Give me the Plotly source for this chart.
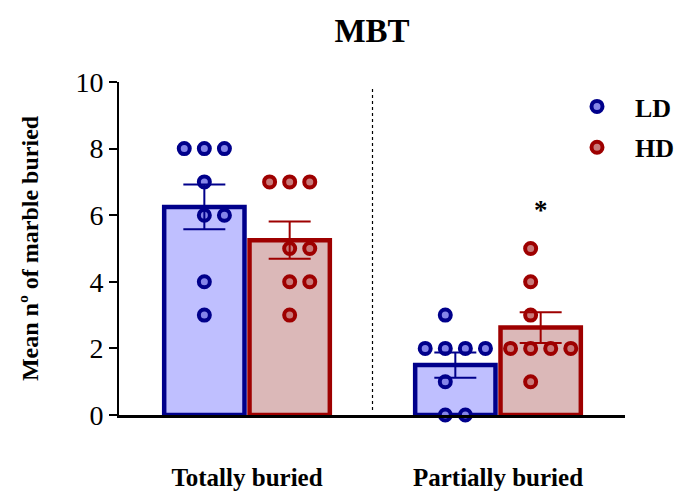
import numpy as np
import plotly.graph_objects as go

# Marble burying test: number of marbles buried per animal
categories = ["Totally buried", "Partially buried"]
groups = ["LD", "HD"]

ld_totally = [8, 8, 8, 7, 6, 6, 4, 3]
hd_totally = [7, 7, 7, 5, 5, 4, 4, 3]
ld_partially = [3, 2, 2, 2, 2, 1, 0, 0]
hd_partially = [5, 4, 3, 2, 2, 2, 2, 1]

values = {
    "LD": [ld_totally, ld_partially],
    "HD": [hd_totally, hd_partially],
}

# styling
FONT = "Liberation Serif"
BAR_FILL = {"LD": "#BFBFFF", "HD": "#DBB8B8"}
EDGE = {"LD": "#00008B", "HD": "#9E0000"}
DOT_FILL = {"LD": "#8484E8", "HD": "#C87A7A"}
BAR_OFFSET = {"LD": -0.17, "HD": 0.17}
BAR_WIDTH = 0.32
SLOT = 0.08                 # horizontal spacing of stacked dots
GRID_PHASE = [0.0, -0.5]    # dot grid alignment per category


def swarm_offsets(vals, phase):
    """Spread identical values side by side on a slot grid."""
    vals = list(vals)
    offs = [0.0] * len(vals)
    for v in sorted(set(vals), reverse=True):
        idx = [i for i, x in enumerate(vals) if x == v]
        n = len(idx)
        start = phase + round(-(n - 1) / 2 - phase)
        for k, i in enumerate(idx):
            offs[i] = (start + k) * SLOT
    return offs


fig = go.Figure()

# bars: group means
for g in groups:
    means = [float(np.mean(v)) for v in values[g]]
    fig.add_trace(go.Bar(
        x=[i + BAR_OFFSET[g] for i in range(len(categories))],
        y=means,
        width=BAR_WIDTH,
        marker=dict(color=BAR_FILL[g], line=dict(color=EDGE[g], width=4.5)),
        showlegend=False,
        hoverinfo="skip",
    ))

# individual animals
for g in groups:
    xs, ys = [], []
    for i, v in enumerate(values[g]):
        offs = swarm_offsets(v, GRID_PHASE[i])
        xs += [i + BAR_OFFSET[g] + o for o in offs]
        ys += v
    fig.add_trace(go.Scatter(
        x=xs, y=ys, mode="markers", name=f"<b>{g}</b>",
        marker=dict(size=11, color=DOT_FILL[g], line=dict(color=EDGE[g], width=4)),
        cliponaxis=False,
        legendgroup=g,
    ))

# mean ± SEM drawn above the dots
for g in groups:
    means = [float(np.mean(v)) for v in values[g]]
    sems = [float(np.std(v, ddof=1) / np.sqrt(len(v))) for v in values[g]]
    fig.add_trace(go.Scatter(
        x=[i + BAR_OFFSET[g] for i in range(len(categories))],
        y=means, mode="markers",
        marker=dict(size=1, opacity=0),
        error_y=dict(type="data", array=sems, visible=True,
                     color=EDGE[g], thickness=2, width=21),
        showlegend=False, hoverinfo="skip", cliponaxis=False,
    ))

# divider between categories
fig.add_shape(type="line", xref="x", yref="paper", x0=0.5, x1=0.5, y0=0.015, y1=0.98,
              line=dict(color="black", width=1.2, dash="dot"))

# significance marker
fig.add_annotation(x=1 + BAR_OFFSET["HD"], y=6.15, text="<b>*</b>", showarrow=False,
                   font=dict(family=FONT, size=27, color="black"))

fig.update_layout(
    width=676, height=492,
    margin=dict(l=119, r=51, t=82, b=77, autoexpand=False),
    plot_bgcolor="white", paper_bgcolor="white",
    title=dict(text="<b>MBT</b>", x=0.5, xref="paper", y=1 - 30 / 492, yanchor="middle",
               font=dict(family=FONT, size=33, color="black")),
    font=dict(family=FONT, color="black"),
    barmode="overlay",
    legend=dict(xref="container", yref="container",
                x=559 / 676, y=1 - 83 / 492, xanchor="left", yanchor="top", itemwidth=66,
                font=dict(family=FONT, size=26, color="black"),
                tracegroupgap=4, bgcolor="rgba(0,0,0,0)"),
    xaxis=dict(range=[-0.51, 1.506], tickvals=[0, 1],
               ticktext=[f"<b>{c}</b>" for c in categories],
               tickfont=dict(family=FONT, size=25, color="black"),
               showline=True, linecolor="black", linewidth=2.5, automargin=False,
               ticks="", showgrid=False, zeroline=False, ticklabelstandoff=38),
    yaxis=dict(range=[0, 10], tickvals=[0, 2, 4, 6, 8, 10],
               tickfont=dict(family=FONT, size=28, color="black"),
               showline=True, linecolor="black", linewidth=2, automargin=False,
               ticks="outside", ticklen=8, tickwidth=2, tickcolor="black",
               showgrid=False, zeroline=False,
               title=dict(text="<b>Mean nº of marble buried</b>", standoff=30,
                          font=dict(family=FONT, size=24, color="black"))),
)

fig.write_html("out.html")
